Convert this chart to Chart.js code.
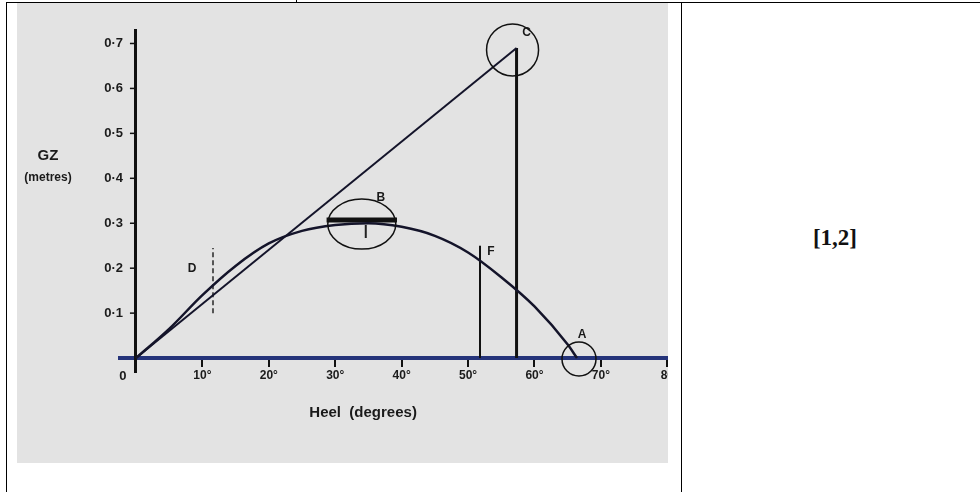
<!DOCTYPE html>
<html>
<head>
<meta charset="utf-8">
<script src="https://cdn.jsdelivr.net/npm/chart.js@4.4.0/dist/chart.umd.min.js"></script>
<style>
  body { margin: 0; background: #fff; width: 980px; height: 492px; position: relative; overflow: hidden; }
  .rule { position: absolute; background: #000; }
  #scan { position: absolute; left: 17px; top: 3px; width: 651px; height: 460px; background: #e3e3e3; overflow: hidden; }
  #ref { position: absolute; left: 775px; width: 120px; top: 225px; text-align: center;
         font: bold 23px "Liberation Serif", "Times New Roman", serif; color: #111; }
</style>
</head>
<body>
<div class="rule" style="left:6px;top:2px;width:974px;height:1px"></div>
<div class="rule" style="left:296px;top:0;width:1px;height:3px"></div>
<div class="rule" style="left:6px;top:2px;width:1px;height:490px"></div>
<div class="rule" style="left:681px;top:2px;width:1px;height:490px"></div>
<div id="scan"><canvas id="gzChart" width="690" height="460"></canvas></div>
<div id="ref">[1,2]</div>

<script>
// GZ curve (heel in degrees, GZ in metres)
var heel = [0, 5, 10, 15, 20, 25, 30, 35, 40, 45, 50, 55, 60, 65, 66.4];
var gz   = [0, 0.065, 0.14, 0.205, 0.255, 0.283, 0.296, 0.300, 0.292, 0.272, 0.235, 0.18, 0.115, 0.03, 0];

// GM line: origin to C at 57.3 deg (one radian)
var gmHeel  = [0, 57.3];
var gmValue = [0, 0.69];

// marked points
var pointA = [66.4, 0];       // angle of vanishing stability
var pointC = [57.3, 0.69];
var lineF  = [51.8, 0, 0.25]; // heel, from, to
var tickD  = [11.6, 0.10, 0.245];
var barB   = [28.7, 39.3, 0.307]; // from, to, level
var tickB  = [34.6, 0.296, 0.267];

var yTicks = ["0·1", "0·2", "0·3", "0·4", "0·5", "0·6", "0·7"];

function pts(xs, ys) {
  return xs.map(function (x, i) { return { x: x, y: ys[i] }; });
}

var ink = "#14142a";
var sans = "'Liberation Sans', Arial, sans-serif";

var marks = {
  id: "marks",
  afterDatasetsDraw: function (chart) {
    var ctx = chart.ctx, sx = chart.scales.x, sy = chart.scales.y;
    var px = function (v) { return sx.getPixelForValue(v); };
    var py = function (v) { return sy.getPixelForValue(v); };
    ctx.save();
    ctx.strokeStyle = "#111";
    ctx.lineWidth = 1.5;
    function ring(cx, cy, rx, ry) {
      ctx.beginPath();
      ctx.ellipse(cx, cy, rx, ry, 0, 0, Math.PI * 2);
      ctx.stroke();
    }
    ring(px(pointC[0]) - 4, py(pointC[1]) + 2, 26, 26);
    ring(px(pointA[0]) + 2, py(pointA[1]) + 1, 17, 17);
    ring(px((barB[0] + barB[1]) / 2), py(barB[2]) + 4, 34, 25);

    // little tick marks on the left of the GZ axis
    for (var k = 1; k <= 7; k++) {
      ctx.beginPath();
      ctx.moveTo(px(0) - 6, py(k / 10));
      ctx.lineTo(px(0), py(k / 10));
      ctx.stroke();
    }

    ctx.fillStyle = "#1a1a1a";
    ctx.textAlign = "center";
    ctx.textBaseline = "middle";
    ctx.font = "bold 12px " + sans;
    ctx.fillText("C", px(pointC[0]) + 10, py(pointC[1]) - 15);
    ctx.fillText("A", px(pointA[0]) + 5, py(pointA[1]) - 23);
    ctx.fillText("B", px((barB[0] + barB[1]) / 2) + 19, py(barB[2]) - 22);
    ctx.fillText("F", px(lineF[0]) + 11, py(lineF[2]) + 6);
    ctx.fillText("D", px(tickD[0]) - 21, py((tickD[1] + tickD[2]) / 2) - 12);

    // origin label and axis titles
    ctx.font = "bold 13px " + sans;
    ctx.fillText("0", px(0) - 13, py(0) + 18);
    ctx.font = "bold 15px " + sans;
    ctx.fillText("Heel  (degrees)", px(34.2), py(0) + 55);
    ctx.fillText("GZ", chart.chartArea.left - 72, py(0.45));
    ctx.font = "bold 12px " + sans;
    ctx.fillText("(metres)", chart.chartArea.left - 72, py(0.45) + 22);
    ctx.restore();
  }
};

var chart = new Chart(document.getElementById("gzChart"), {
  type: "scatter",
  data: {
    datasets: [
      { label: "GZ", data: pts(heel, gz), showLine: true, cubicInterpolationMode: "monotone",
        borderColor: ink, borderWidth: 2.5, pointRadius: 0 },
      { label: "GM", data: pts(gmHeel, gmValue), showLine: true,
        borderColor: ink, borderWidth: 2, pointRadius: 0 },
      { label: "C", data: pts([pointC[0], pointC[0]], [0, pointC[1]]), showLine: true,
        borderColor: "#111", borderWidth: 3, pointRadius: 0 },
      { label: "F", data: pts([lineF[0], lineF[0]], [lineF[1], lineF[2]]), showLine: true,
        borderColor: "#111", borderWidth: 2, pointRadius: 0 },
      { label: "D", data: pts([tickD[0], tickD[0]], [tickD[1], tickD[2]]), showLine: true,
        borderColor: "#555", borderWidth: 2, borderDash: [5, 3], pointRadius: 0 },
      { label: "B", data: pts([barB[0], barB[1]], [barB[2], barB[2]]), showLine: true,
        borderColor: "#111", borderWidth: 5, pointRadius: 0 },
      { label: "Bt", data: pts([tickB[0], tickB[0]], [tickB[1], tickB[2]]), showLine: true,
        borderColor: "#222", borderWidth: 2, pointRadius: 0 }
    ]
  },
  options: {
    responsive: false,
    animation: false,
    events: [],
    layout: { padding: { left: 103, right: 39, top: 27, bottom: 91 } },
    plugins: { legend: { display: false }, tooltip: { enabled: false } },
    scales: {
      x: {
        type: "linear", position: { y: 0 }, min: -2.4, max: 80.1,
        border: { color: "#25347a", width: 4 },
        grid: { drawOnChartArea: false, tickLength: 7, color: "#111", lineWidth: 2 },
        ticks: {
          stepSize: 10, includeBounds: false, padding: 3, maxRotation: 0, autoSkip: false,
          color: "#1b1b1b", font: { family: sans, size: 12, weight: "bold" },
          callback: function (v) { return v <= 0 ? "" : (v >= 80 ? "80" : v + "°"); }
        }
      },
      y: {
        type: "linear", position: { x: 0 }, min: -0.031, max: 0.73,
        border: { color: "#111", width: 3 },
        grid: { display: false },
        ticks: {
          stepSize: 0.1, includeBounds: false, padding: 0,
          color: "#1b1b1b", font: { family: sans, size: 13, weight: "bold" },
          callback: function (v) {
            var i = Math.round(v * 10);
            return i >= 1 && i <= 7 ? yTicks[i - 1] + "\u2002\u2002" : "";
          }
        }
      }
    }
  },
  plugins: [marks]
});
</script>
</body>
</html>
